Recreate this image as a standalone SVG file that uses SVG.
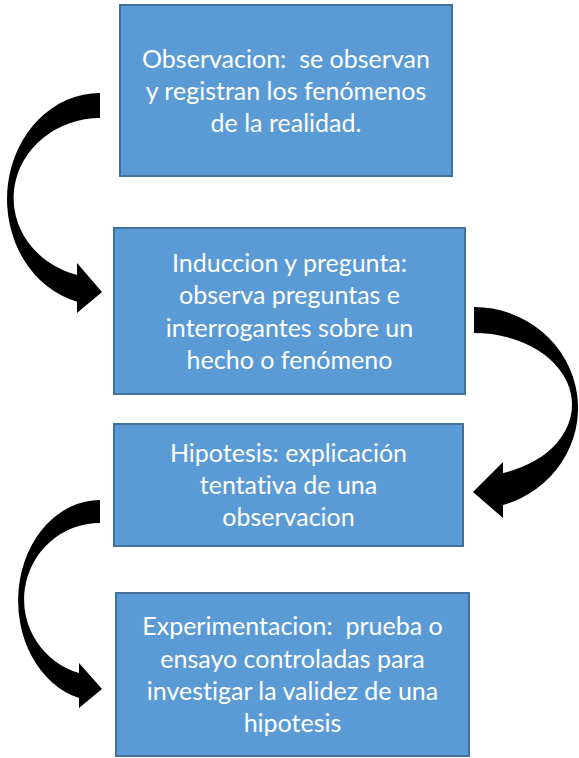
<svg xmlns="http://www.w3.org/2000/svg" width="579" height="758" viewBox="0 0 579 758">
<style>
.box{fill:#5B9BD5;stroke:#41719C;stroke-width:2}
.t{font-family:Lato,"Open Sans","Liberation Sans",sans-serif;font-size:25px;fill:#ffffff;text-anchor:middle;white-space:pre;font-variant-ligatures:none}
.arr{fill:#000000}
</style>
<rect width="579" height="758" fill="#ffffff"/>
<g id="connectors">
<path class="arr" d="M100,93 A93,106 0 0 0 77,301.7 L77,313 L102,292 L77,263 L77,275 A87,80 0 0 1 100,118 Z"/>
<path class="arr" d="M474,307 A104,101 0 0 1 503,505 L503,518 L473,492 L503,462 L503,473 A98,71.6 0 0 0 474,333 Z"/>
<path class="arr" d="M100,500 A82,100.7 0 0 0 79,698 L79,708 L102,689 L79,663 L79,673 A76,76.5 0 0 1 100,523 Z"/>
</g>
<g id="observacion">
<rect class="box" x="120" y="5" width="332" height="171"/>
<text class="t" xml:space="preserve"><tspan x="286" y="68">Observacion:  se observan</tspan><tspan x="286" y="100">y registran los fenómenos</tspan><tspan x="286" y="132">de la realidad.</tspan></text>
</g>
<g id="induccion">
<rect class="box" x="114" y="228" width="351" height="166"/>
<text class="t"><tspan x="289.5" y="272">Induccion y pregunta:</tspan><tspan x="289.5" y="304">observa preguntas e</tspan><tspan x="289.5" y="336.5">interrogantes sobre un</tspan><tspan x="289.5" y="368.5">hecho o fenómeno</tspan></text>
</g>
<g id="hipotesis">
<rect class="box" x="114" y="424" width="349" height="122"/>
<text class="t"><tspan x="288.5" y="462">Hipotesis: explicación</tspan><tspan x="288.5" y="494">tentativa de una</tspan><tspan x="288.5" y="525.5">observacion</tspan></text>
</g>
<g id="experimentacion">
<rect class="box" x="116" y="593" width="353" height="163"/>
<text class="t" xml:space="preserve"><tspan x="292.5" y="635">Experimentacion:  prueba o</tspan><tspan x="292.5" y="668">ensayo controladas para</tspan><tspan x="292.5" y="700">investigar la validez de una</tspan><tspan x="292.5" y="732">hipotesis</tspan></text>
</g>
</svg>
